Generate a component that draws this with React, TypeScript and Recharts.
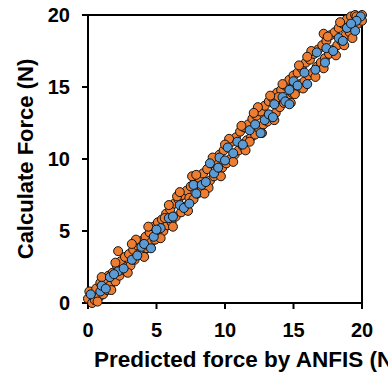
import {
  ScatterChart,
  Scatter,
  XAxis,
  YAxis,
  ZAxis,
  ReferenceLine,
} from 'recharts';

// Orange series: [predicted, calculated]
const orangePoints: [number, number][] = [
  [0.0, 0.3], [0.1, 0.8], [0.3, 0.0], [0.4, 0.5], [0.5, 0.2], [0.6, 1.0], [0.8, 0.4],
  [0.9, 1.4], [1.1, 0.6], [1.2, 1.5], [1.4, 0.9], [1.5, 1.9], [1.6, 1.2], [1.8, 2.1],
  [2.0, 1.5], [2.1, 2.6], [2.3, 1.9], [2.4, 2.9], [2.5, 2.3], [2.7, 3.2], [2.8, 2.5],
  [3.0, 3.4], [3.1, 2.6], [3.3, 3.7], [3.4, 3.0], [3.6, 4.0], [3.7, 3.4], [3.9, 4.3],
  [4.0, 3.5], [4.2, 4.6], [4.3, 3.8], [4.5, 4.9], [4.6, 4.2], [4.8, 5.3], [4.9, 4.4],
  [5.1, 5.6], [5.2, 4.8], [5.4, 5.8], [5.5, 5.0], [5.7, 6.2], [5.8, 5.4], [6.0, 6.5],
  [6.1, 5.6], [6.3, 6.9], [6.4, 6.0], [6.6, 7.2], [6.8, 6.3], [6.9, 7.5], [7.1, 6.7],
  [7.2, 7.8], [7.4, 7.3], [7.5, 8.1], [7.7, 7.2], [7.8, 8.5], [8.0, 7.6], [8.1, 8.7],
  [8.3, 7.9], [8.4, 9.0], [8.6, 8.1], [8.7, 9.3], [8.9, 8.5], [9.0, 9.7], [9.2, 8.8],
  [9.3, 9.9], [9.5, 9.1], [9.6, 10.3], [9.8, 9.4], [9.9, 10.6], [10.1, 9.7], [10.2, 11.0],
  [10.4, 10.0], [10.5, 11.2], [10.7, 10.3], [10.8, 11.5], [11.0, 10.6], [11.1, 11.9],
  [11.3, 10.9], [11.4, 12.2], [11.6, 11.3], [11.7, 12.4], [11.9, 11.5], [12.0, 12.8],
  [12.2, 11.7], [12.3, 13.0], [12.5, 12.1], [12.6, 13.3], [12.8, 12.4], [12.9, 13.7],
  [13.1, 12.6], [13.2, 14.0], [13.4, 13.0], [13.5, 14.2], [13.7, 13.2], [13.8, 14.6],
  [14.0, 13.6], [14.1, 14.8], [14.3, 13.9], [14.4, 15.1], [14.6, 14.2], [14.7, 15.5],
  [14.9, 14.6], [15.0, 15.8], [15.2, 14.8], [15.3, 16.0], [15.5, 15.2], [15.6, 16.3],
  [15.8, 15.4], [15.9, 16.7], [16.1, 15.8], [16.2, 16.9], [16.4, 16.0], [16.5, 17.3],
  [16.7, 16.4], [16.8, 17.6], [17.0, 16.7], [17.1, 17.9], [17.3, 17.0], [17.4, 18.2],
  [17.6, 17.3], [17.7, 18.6], [17.9, 17.6], [18.0, 18.8], [18.2, 17.9], [18.3, 19.1],
  [18.5, 18.2], [18.6, 19.4], [18.8, 18.6], [18.9, 19.7], [19.1, 18.8], [19.2, 19.9],
  [19.4, 19.1], [19.5, 20.0], [19.7, 19.4], [19.8, 19.8], [20.0, 19.6], [20.0, 20.0],
  [2.2, 3.6], [3.5, 4.4], [5.6, 5.9], [6.5, 7.4], [7.6, 8.8], [10.3, 11.4], [12.4, 13.6],
  [13.9, 14.3], [16.3, 17.5], [17.2, 18.7], [8.8, 8.0], [11.8, 11.2], [15.1, 14.5],
  [0.7, 0.1], [1.0, 1.8], [1.7, 0.9], [2.0, 2.8], [2.9, 2.1], [3.2, 4.1], [4.1, 3.2],
  [4.4, 5.3], [5.3, 4.5], [5.9, 6.8], [6.2, 5.3], [6.7, 7.7], [7.3, 6.4], [7.9, 8.9],
  [8.5, 7.6], [9.1, 10.1], [9.7, 8.8], [10.0, 11.0], [10.6, 9.8], [11.2, 12.3],
  [11.5, 10.6], [12.1, 13.2], [12.7, 11.8], [13.3, 14.4], [13.6, 12.7], [14.2, 15.2],
  [14.8, 13.9], [15.4, 16.5], [15.7, 14.9], [16.0, 17.1], [16.6, 15.7], [17.2, 16.3],
  [17.5, 18.5], [18.1, 17.2], [18.4, 19.5], [18.7, 17.9], [19.3, 18.4], [19.6, 19.9],
];

// Blue series: [predicted, calculated]
const bluePoints: [number, number][] = [
  [0.2, 0.6], [0.9, 0.8], [1.0, 1.2], [1.3, 1.0], [1.6, 1.8], [2.2, 2.2], [1.9, 2.0],
  [2.6, 2.4], [3.2, 3.0], [3.6, 3.3], [3.9, 3.9], [4.1, 4.1], [4.6, 3.8], [4.8, 4.6],
  [5.3, 5.2], [5.0, 5.1], [5.9, 5.9], [6.2, 6.0], [6.7, 6.8], [7.0, 6.6], [7.4, 6.9],
  [7.7, 8.2], [7.9, 7.6], [8.3, 8.2], [8.6, 8.4], [8.9, 9.7], [9.2, 9.0], [9.5, 9.4],
  [9.6, 10.1], [10.0, 9.9], [10.2, 10.8], [10.6, 10.4], [10.9, 11.2], [11.3, 11.0],
  [11.8, 12.0], [12.2, 12.4], [12.6, 11.8], [12.9, 12.7], [13.2, 13.1], [13.5, 12.9],
  [13.6, 13.8], [14.2, 14.3], [14.4, 14.0], [14.7, 14.8], [14.7, 13.8], [15.0, 15.4],
  [15.3, 15.1], [16.0, 15.2], [15.8, 16.0], [16.6, 16.2], [16.7, 17.4], [17.3, 16.7],
  [17.4, 17.7], [17.9, 17.5], [18.3, 18.4], [18.6, 18.2], [18.9, 19.1], [19.5, 18.9],
  [19.9, 19.9], [19.6, 19.6], [19.2, 19.4],
];

const axisTicks = [0, 5, 10, 15, 20];

const orangeData = orangePoints.map(([x, y]) => ({ x, y }));
const blueData = bluePoints.map(([x, y]) => ({ x, y }));

const font = '"Liberation Sans", Arial, sans-serif';
const tickStyle = { fontSize: 20, fontWeight: 700, fill: '#000', fontFamily: font };

function XLabel() {
  return (
    <text x={94} y={367} fontSize={22.5} fontWeight={700} fontFamily={font} fill="#000">
      Predicted force by ANFIS (N)
    </text>
  );
}

function YLabel() {
  return (
    <text
      x={33}
      y={159}
      transform="rotate(-90 33 159)"
      textAnchor="middle"
      fontSize={22}
      fontWeight={700}
      fontFamily={font}
      fill="#000"
    >
      Calculate Force (N)
    </text>
  );
}

export default function App() {
  return (
    <div style={{ position: 'absolute', left: 0, top: 0, background: '#fff' }}>
      <ScatterChart width={388} height={376} margin={{ top: 15, right: 26, bottom: 0, left: 0 }}>
        <XAxis
          type="number"
          dataKey="x"
          domain={[0, 20]}
          ticks={axisTicks}
          height={73}
          tick={tickStyle}
          tickSize={6}
          tickMargin={14}
          axisLine={{ stroke: '#000', strokeWidth: 2 }}
          tickLine={{ stroke: '#000', strokeWidth: 2 }}
          label={<XLabel />}
        />
        <YAxis
          type="number"
          dataKey="y"
          domain={[0, 20]}
          ticks={axisTicks}
          width={88}
          tick={tickStyle}
          tickSize={6}
          tickMargin={12}
          axisLine={{ stroke: '#000', strokeWidth: 2 }}
          tickLine={{ stroke: '#000', strokeWidth: 2 }}
          label={<YLabel />}
        />
        <ZAxis range={[110, 110]} />
        <ReferenceLine y={20} stroke="#000" strokeWidth={2} />
        <ReferenceLine x={20} stroke="#000" strokeWidth={2} />
        <Scatter
          data={orangeData}
          fill="#ED7D31"
          stroke="#111"
          strokeWidth={1}
          isAnimationActive={false}
        />
        <Scatter
          data={blueData}
          fill="#5B9BD5"
          stroke="#111"
          strokeWidth={1}
          isAnimationActive={false}
        />
      </ScatterChart>
    </div>
  );
}
